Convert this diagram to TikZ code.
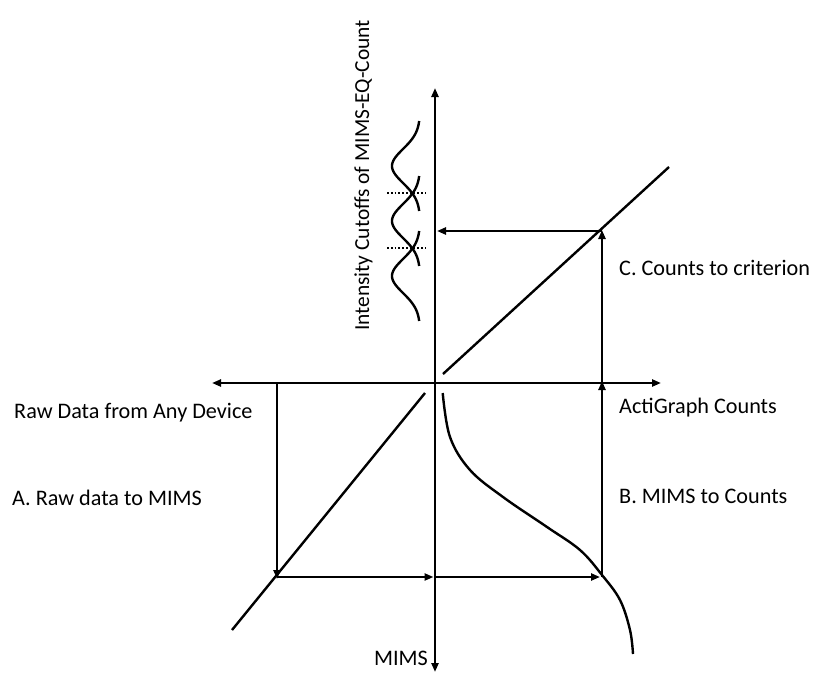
\documentclass[tikz,border=0pt]{standalone}
\usepackage{fontspec}
\setmainfont{Carlito}
\usetikzlibrary{arrows.meta}
\begin{document}
\begin{tikzpicture}[x=1pt,y=-1pt,
  axis/.style={line width=2.7pt,{Triangle[length=9pt,width=7pt]}-{Triangle[length=9pt,width=7pt]}},
  flow/.style={line width=2.4pt,-{Triangle[length=9pt,width=7pt]}},
  curve/.style={line width=2.4pt},
  cutoff/.style={line width=1.8pt,dotted},
  lbl/.style={anchor=base west,inner sep=0pt,font=\fontsize{22.2}{26}\selectfont}]
\useasboundingbox (0,0) rectangle (814,678);

% axes
\coordinate (top) at (435,88);
\coordinate (bottom) at (435,672);
\coordinate (left) at (212,383);
\coordinate (right) at (661,383);
\draw[axis] (bottom) -- (top);
\draw[axis] (left) -- (right);

% identity lines in the lower-left and upper-right quadrants
\coordinate (ll1) at (232,630);
\coordinate (ll2) at (425,393);
\coordinate (ur1) at (443,374);
\coordinate (ur2) at (669,167);
\draw[curve] (ll1) -- (ll2);
\draw[curve] (ur1) -- (ur2);

% MIMS to counts transfer curve
\draw[curve] plot[smooth,tension=0.6] coordinates {(442.7,393) (450,437) (470,470) (503,497) (547,527) (580,550) (602,575) (620,600) (630,630) (633,654)};

% mapping path
\coordinate (a0) at (277,383);
\coordinate (a1) at (277,577);
\coordinate (m0) at (435,577);
\coordinate (b1) at (602,577);
\coordinate (b2) at (602,383);
\coordinate (c1) at (602,231);
\coordinate (c2) at (435,231);
\draw[flow] (a0) -- ([yshift=-2pt]a1);
\draw[flow] (a1) -- ([xshift=-1.5pt]m0);
\draw[flow] (m0) -- ([xshift=-2pt]b1);
\draw[flow] (b1) -- ([yshift=2pt]b2);
\draw[flow] (b2) -- ([yshift=1pt]c1);
\draw[flow] (c1) -- ([xshift=2pt]c2);

% intensity distributions and their cutoffs
\foreach \yp in {166,221,276}
  \draw[curve] plot[domain=-45:45,samples=60,smooth] ({420-28*exp(-((\x/17)^2)/2)},{\yp+\x});
\coordinate (k1a) at (387,193);
\coordinate (k1b) at (426,193);
\coordinate (k2a) at (387,248);
\coordinate (k2b) at (426,248);
\draw[cutoff] (k1a) -- (k1b);
\draw[cutoff] (k2a) -- (k2b);

% labels
\node[lbl] (tRaw) at (14,418) {Raw Data from Any Device};
\node[lbl] (tA) at (12,505) {A. Raw data to MIMS};
\node[lbl] (tAG) at (619,413) {ActiGraph Counts};
\node[lbl] (tB) at (619,503) {B. MIMS to Counts};
\node[lbl] (tC) at (619,275) {C. Counts to criterion};
\node[lbl,anchor=base east] (tM) at (428,665) {MIMS};
\node[lbl,rotate=90,font=\fontsize{21.4}{26}\selectfont] (tI) at (369,331) {Intensity Cutoffs of MIMS-EQ-Count};
\end{tikzpicture}
\end{document}
